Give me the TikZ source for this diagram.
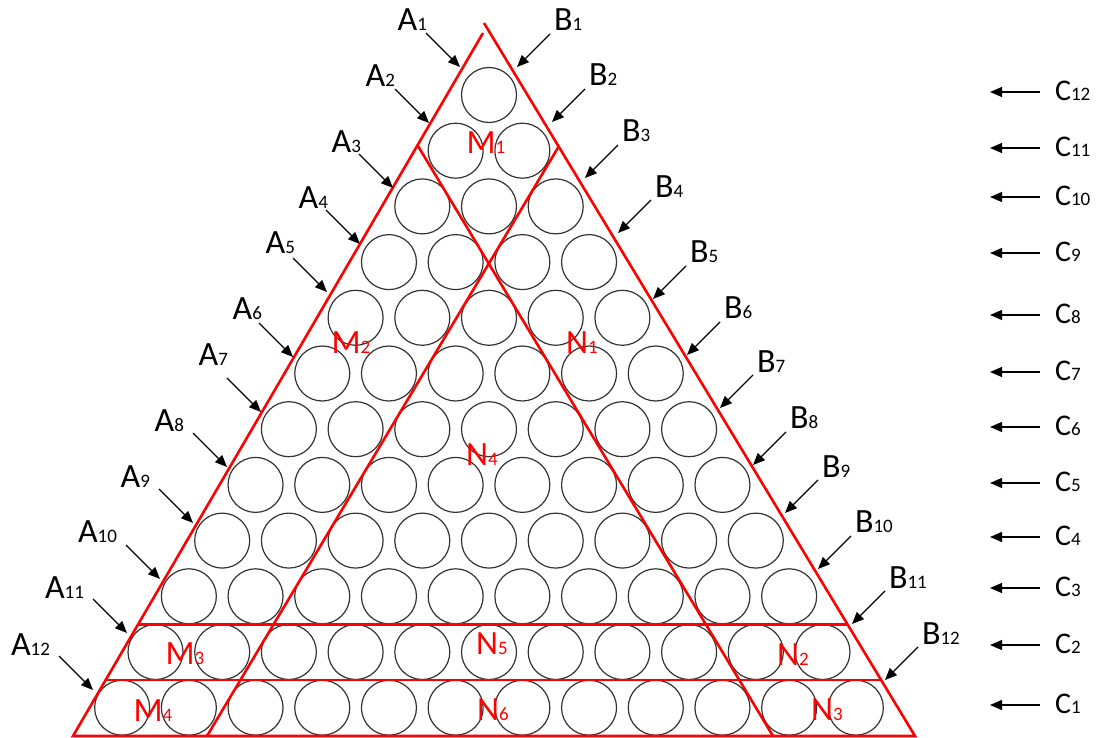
\documentclass[tikz,border=0pt]{standalone}
\usepackage{fontspec}
\setmainfont{Carlito}
\usetikzlibrary{arrows.meta,positioning}
\definecolor{sortred}{HTML}{FF0000}
\newcommand{\biglab}[2]{{\fontsize{34pt}{34pt}\selectfont #1}{\fontsize{19pt}{19pt}\selectfont #2}}
\newcommand{\rowlab}[2]{{\fontsize{30pt}{30pt}\selectfont #1}{\fontsize{19pt}{19pt}\selectfont #2}}

\begin{document}
\begin{tikzpicture}[
    x=1pt, y=-1pt,
    every node/.style={inner sep=0pt, outer sep=0pt},
    ball/.style={draw=black!80, line width=1.2pt},
    rim/.style={draw=sortred, line width=2.6pt},
    pointer/.style={-{Triangle[length=12pt,width=10pt]}, line width=1.3pt},
    zonelbl/.style={text=sortred}
]
\useasboundingbox (0,0) rectangle (1097,738);

% Circles, row by row
\foreach \r in {1,...,12} {
  \foreach \k in {1,...,\r} {
    \draw[ball] ({489+(\k-(\r+1)/2)*66.7}, {95+(\r-1)*55.7}) circle[radius=27.5pt];
  }
}

% Red outline and partition lines
\coordinate (bl) at (73,736);
\coordinate (br) at (915,736);
\coordinate (tl) at (483,33);
\coordinate (tr) at (484,23);
\coordinate (dl) at (418,146);
\coordinate (dlb) at (773,736);
\coordinate (dr) at (559,146);
\coordinate (drb) at (207,736);
\coordinate (hal) at (138,624.5);
\coordinate (har) at (848,624.5);
\coordinate (hbl) at (105,680);
\coordinate (hbr) at (882,680);

\draw[rim] (tl) -- (bl) -- (br) -- (tr);
\draw[rim] (dl) -- (dlb);
\draw[rim] (dr) -- (drb);
\draw[rim] (hal) -- (har);
\draw[rim] (hbl) -- (hbr);

% Zone labels
\node[zonelbl] (m1) at (486,143) {\biglab{M}{1}};
\node[zonelbl] (m2) at (351,343) {\biglab{M}{2}};
\node[zonelbl] (n1) at (582,343) {\biglab{N}{1}};
\node[zonelbl] (n4) at (482,455) {\biglab{N}{4}};
\node[zonelbl] (m3) at (185,654) {\biglab{M}{3}};
\node[zonelbl] (n5) at (492,644) {\biglab{N}{5}};
\node[zonelbl] (n2) at (793,655) {\biglab{N}{2}};
\node[zonelbl] (m4) at (153,711) {\biglab{M}{4}};
\node[zonelbl] (n6) at (493,710) {\biglab{N}{6}};
\node[zonelbl] (n3) at (827,710) {\biglab{N}{3}};

% Left side pointers A
\foreach \i/\tx/\ty/\dx/\dy in {1/460/67/33/36, 2/429/123/34/36, 3/393/188/32/35,
    4/360/244/32/36, 5/327/292/32/38, 6/293/357/31/37, 7/261/412/33/47,
    8/227/467/43/35, 9/193/523/43/36, 10/160/579/43/36, 11/127/633/43/35,
    12/93/690/43/35} {
  \coordinate (ta\i) at (\tx,\ty);
  \coordinate (sa\i) at ({\tx-34},{\ty-34});
  \node[above left=\dy pt and \dx pt of ta\i, anchor=south east] (A\i) {\biglab{A}{\i}};
  \draw[pointer] (sa\i) -- (ta\i);
}

% Right side pointers B
\foreach \i/\tx/\ty in {1/517/67, 2/552/122, 3/585/178, 4/618/233, 5/653/299,
    6/687/355, 7/720/408, 8/753/465, 9/785/513, 10/818/569, 11/852/624,
    12/885/680} {
  \coordinate (tb\i) at (\tx,\ty);
  \coordinate (sb\i) at ({\tx+33},{\ty-33});
  \node[above right=36pt and 37pt of tb\i, anchor=south west] (B\i) {\biglab{B}{\i}};
  \draw[pointer] (sb\i) -- (tb\i);
}

% Row pointers C
\foreach \i/\cy in {12/92, 11/148, 10/197, 9/253, 8/315, 7/372, 6/427,
    5/483, 4/537, 3/588, 2/645, 1/705} {
  \coordinate (tc\i) at (990,\cy);
  \coordinate (sc\i) at (1040,\cy);
  \node[right=15pt of sc\i, yshift=1.5pt] (C\i) {\rowlab{C}{\i}};
  \draw[pointer] (sc\i) -- (tc\i);
}
\end{tikzpicture}
\end{document}
